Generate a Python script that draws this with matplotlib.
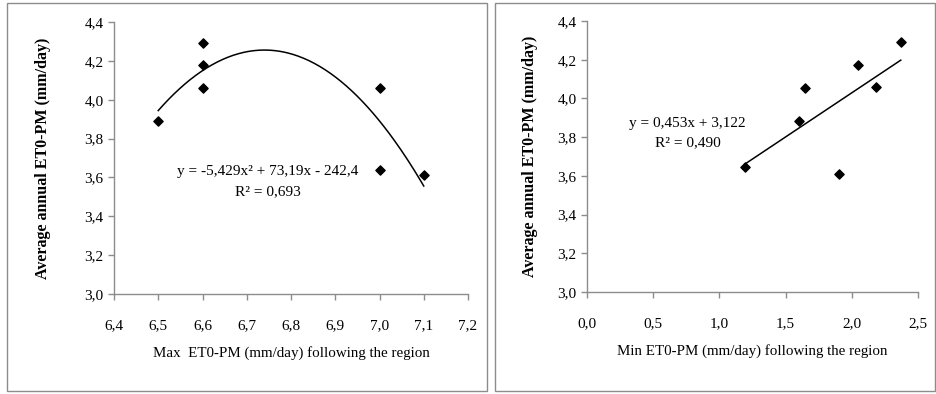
import numpy as np
import matplotlib
matplotlib.use("Agg")
import matplotlib.pyplot as plt
from matplotlib.patches import Rectangle

plt.rcParams['font.family'] = ['Liberation Serif', 'DejaVu Serif']

# Data
max_et0 = [6.5, 6.6, 6.6, 6.6, 7.0, 7.0, 7.1]
avg_et0_left = [3.89, 4.29, 4.18, 4.06, 4.06, 3.64, 3.61]

min_et0 = [1.19, 1.60, 1.65, 1.90, 2.05, 2.18, 2.37]
avg_et0_right = [3.645, 3.885, 4.055, 3.61, 4.175, 4.06, 4.29]

left_xticks = [6.4, 6.5, 6.6, 6.7, 6.8, 6.9, 7.0, 7.1, 7.2]
left_xticklabels = ['6,4', '6,5', '6,6', '6,7', '6,8', '6,9', '7,0', '7,1', '7,2']
right_xticks = [0.0, 0.5, 1.0, 1.5, 2.0, 2.5]
right_xticklabels = ['0,0', '0,5', '1,0', '1,5', '2,0', '2,5']
yticks = [3.0, 3.2, 3.4, 3.6, 3.8, 4.0, 4.2, 4.4]
yticklabels = ['3,0', '3,2', '3,4', '3,6', '3,8', '4,0', '4,2', '4,4']

left_eq = "y = -5,429x² + 73,19x - 242,4"
left_r2 = "R² = 0,693"
right_eq = "y = 0,453x + 3,122"
right_r2 = "R² = 0,490"

fig = plt.figure(figsize=(9.37, 3.94), dpi=100)

# Panel borders
for (x0, x1) in [(7, 487), (495, 935)]:
    fig.patches.append(Rectangle((x0 / 937, 1 - 391 / 394), (x1 - x0) / 937, 388 / 394,
                                 transform=fig.transFigure, fill=False,
                                 edgecolor='#8c8c8c', linewidth=1.0))

axL = fig.add_axes([114 / 937, 1 - 294 / 394, (468 - 114) / 937, (294 - 22) / 394])
axR = fig.add_axes([587 / 937, 1 - 292 / 394, (918 - 587) / 937, (292 - 21) / 394])

gray = '#8c8c8c'
for ax, pad in ((axL, 24), (axR, 14)):
    for s in ('top', 'right'):
        ax.spines[s].set_visible(False)
    for s in ('left', 'bottom'):
        ax.spines[s].set_color(gray)
        ax.spines[s].set_linewidth(1.0)
    ax.tick_params(axis='both', colors=gray, length=4, width=1.0, labelcolor='black',
                   labelsize=11)
    ax.tick_params(axis='x', pad=14)
    ax.set_ylim(3.0, 4.4)
    ax.set_yticks(yticks)
    ax.set_yticklabels(yticklabels)
    ax.set_ylabel("Average annual ET0-PM (mm/day)", fontsize=11.5, fontweight='bold',
                  labelpad=pad)

# Left panel
axL.set_xlim(6.4, 7.2)
axL.set_xticks(left_xticks)
axL.set_xticklabels(left_xticklabels)
axL.scatter(max_et0, avg_et0_left, marker='D', s=22, color='black', zorder=3)
coef2 = np.polyfit(max_et0, avg_et0_left, 2)
xs = np.linspace(min(max_et0), max(max_et0), 200)
axL.plot(xs, np.polyval(coef2, xs), color='black', linewidth=1.1)
axL.text(6.748, 3.628, left_eq, ha='center', va='center', fontsize=11)
axL.text(6.748, 3.525, left_r2, ha='center', va='center', fontsize=11)
axL.set_xlabel("Max  ET0-PM (mm/day) following the region", fontsize=10.8, labelpad=10)

# Right panel
axR.set_xlim(0.0, 2.5)
axR.set_xticks(right_xticks)
axR.set_xticklabels(right_xticklabels)
axR.scatter(min_et0, avg_et0_right, marker='D', s=22, color='black', zorder=3)
coef1 = np.polyfit(min_et0, avg_et0_right, 1)
xs2 = np.array([min(min_et0), max(min_et0)])
axR.plot(xs2, np.polyval(coef1, xs2), color='black', linewidth=1.1)
axR.text(0.76, 3.873, right_eq, ha='center', va='center', fontsize=11)
axR.text(0.76, 3.77, right_r2, ha='center', va='center', fontsize=11)
axR.set_xlabel("Min ET0-PM (mm/day) following the region", fontsize=10.8, labelpad=10)

fig.savefig("out.png", dpi=100)
